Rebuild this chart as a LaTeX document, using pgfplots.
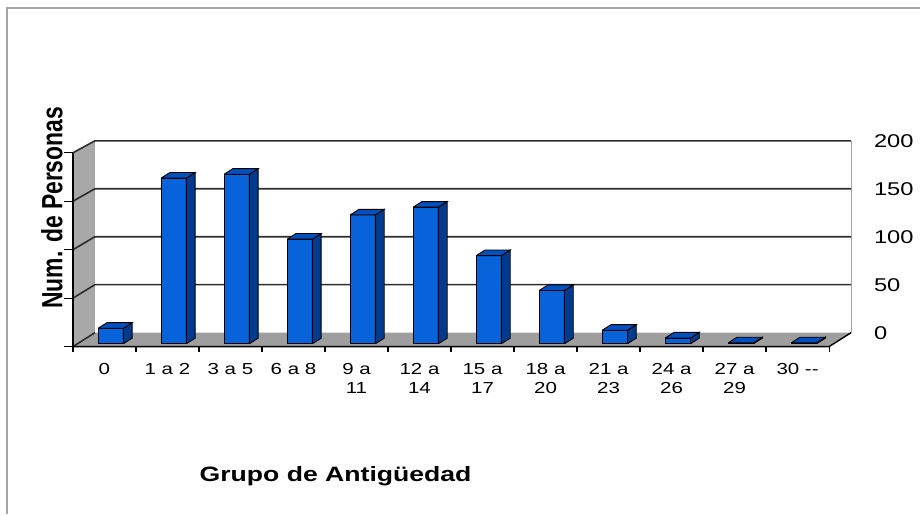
\documentclass[border=0pt]{standalone}
\usepackage{fontspec}
\setmainfont{Liberation Sans}[FakeStretch=1.28]
\newfontfamily\plainfont{Liberation Sans}
\usepackage{graphicx}
\usepackage{pgfplots}
\pgfplotsset{compat=1.18}
\definecolor{barfront}{RGB}{8,98,218}
\definecolor{barside}{RGB}{0,58,140}
\definecolor{bartop}{RGB}{0,80,190}
\definecolor{sidewall}{RGB}{168,168,168}
\definecolor{floorc}{RGB}{158,158,158}
\definecolor{gridc}{RGB}{45,45,45}
\definecolor{framec}{RGB}{165,165,165}
\begin{document}
\begin{tikzpicture}
\begin{axis}[
  scale only axis, width=757pt, height=194pt,
  xmin=-0.5, xmax=11.5, ymin=0, ymax=200,
  hide axis, clip=false,
]
% bounding box = full picture
\path (axis cs:-1.6572,-173.196) rectangle (axis cs:12.9426,357.732);
% outer frame (top and left)
\draw[framec, line width=2pt] (axis cs:-1.5462,-173.196) -- (axis cs:-1.5462,349.48) -- (axis cs:12.9426,349.48);
% side wall
\fill[sidewall] (axis cs:-0.5,0) -- (axis cs:-0.151,14.4) -- (axis cs:-0.151,212.4) -- (axis cs:-0.5,200) -- cycle;
% floor
\fill[floorc] (axis cs:-0.5,0) -- (axis cs:11.5,0) -- (axis cs:11.849,14.4) -- (axis cs:-0.151,14.4) -- cycle;
% back wall edges
\draw[framec, line width=1pt] (axis cs:-0.151,14.4) -- (axis cs:-0.151,212.4);
\draw[framec, line width=1pt] (axis cs:11.849,14.4) -- (axis cs:11.849,212.4);
% gridlines
\draw[gridc, line width=1.6pt] (axis cs:-0.5,50) -- (axis cs:-0.151,63.9) -- (axis cs:11.849,63.9);
\draw[gridc, line width=1.6pt] (axis cs:-0.5,100) -- (axis cs:-0.151,113.4) -- (axis cs:11.849,113.4);
\draw[gridc, line width=1.6pt] (axis cs:-0.5,150) -- (axis cs:-0.151,162.9) -- (axis cs:11.849,162.9);
\draw[gridc, line width=1.6pt] (axis cs:-0.5,200) -- (axis cs:-0.151,212.4) -- (axis cs:11.849,212.4);
\draw[gridc, line width=1.6pt] (axis cs:-0.5,0) -- (axis cs:-0.151,14.4);
% front edges
\draw[black, line width=1.6pt] (axis cs:-0.5,0) -- (axis cs:-0.5,200);
\draw[black, line width=1.4pt] (axis cs:-0.5,0) -- (axis cs:11.5,0) -- (axis cs:11.849,14.4);
% left ticks
\draw[black, line width=1.2pt] (axis cs:-0.64,0) -- (axis cs:-0.5,0);
\draw[black, line width=1.2pt] (axis cs:-0.64,50) -- (axis cs:-0.5,50);
\draw[black, line width=1.2pt] (axis cs:-0.64,100) -- (axis cs:-0.5,100);
\draw[black, line width=1.2pt] (axis cs:-0.64,150) -- (axis cs:-0.5,150);
\draw[black, line width=1.2pt] (axis cs:-0.64,200) -- (axis cs:-0.5,200);
% bottom ticks
\foreach \k in {-0.5,0.5,1.5,2.5,3.5,4.5,5.5,6.5,7.5,8.5,9.5,10.5,11.5}{
  \edef\tmp{\noexpand\draw[black, line width=1.2pt] (axis cs:\k,0) -- (axis cs:\k,-6);}\tmp
}
% bars (value data)
\foreach \i/\v in {0/16,1/171,2/175,3/108,4/133,5/141,6/91,7/55,8/14,9/6,10/1,11/1}{
  \pgfmathsetmacro\xl{\i-0.10}
  \pgfmathsetmacro\xr{\i+0.30}
  \pgfmathsetmacro\xls{\i+0.04}
  \pgfmathsetmacro\xrs{\i+0.44}
  \pgfmathsetmacro\yt{2.9+\v}
  \pgfmathsetmacro\yts{8.7+\v}
  \edef\tmp{%
    \noexpand\addplot[fill=barfront, draw=black, line width=0.9pt, mark=none] coordinates {(\xl,2.9) (\xr,2.9) (\xr,\yt) (\xl,\yt) (\xl,2.9)};
    \noexpand\addplot[fill=barside, draw=black, line width=0.9pt, mark=none] coordinates {(\xr,2.9) (\xrs,8.7) (\xrs,\yts) (\xr,\yt) (\xr,2.9)};
    \noexpand\addplot[fill=bartop, draw=black, line width=0.9pt, mark=none] coordinates {(\xl,\yt) (\xr,\yt) (\xrs,\yts) (\xls,\yts) (\xl,\yt)};
  }\tmp
}
% category labels
\foreach \i/\a/\b in {0/0/,1/1 a 2/,2/3 a 5/,3/6 a 8/,4/9 a/11,5/12 a/14,6/15 a/17,7/18 a/20,8/21 a/23,9/24 a/26,10/27 a/29}{
  \edef\tmp{\noexpand\node[anchor=base, font=\noexpand\fontsize{16}{19}\noexpand\selectfont] at (axis cs:\i,-28.9) {\a};
  \noexpand\node[anchor=base, font=\noexpand\fontsize{16}{19}\noexpand\selectfont] at (axis cs:\i,-48.5) {\b};}\tmp
}
\node[anchor=base, font=\fontsize{16}{19}\selectfont] at (axis cs:11,-28.9) {30 -{}-};
% right value labels
\foreach \v/\y in {0/14.4,50/63.9,100/113.4,150/162.9,200/212.4}{
  \edef\tmp{\noexpand\node[anchor=west, inner sep=0pt, font=\noexpand\fontsize{18.5}{22}\noexpand\selectfont] at (axis cs:12.21,\y) {\v};}\tmp
}
% axis titles
\node[anchor=base, font=\fontsize{20.8}{24}\selectfont\bfseries] at (axis cs:3.668,-139.2) {Grupo de Antigüedad};
\node[rotate=90, inner sep=0pt] at (axis cs:-0.833,143.3) {\scalebox{1}[1.28]{\plainfont\fontsize{22.9}{26}\selectfont\bfseries Num. de Personas}};
\end{axis}
\end{tikzpicture}
\end{document}
